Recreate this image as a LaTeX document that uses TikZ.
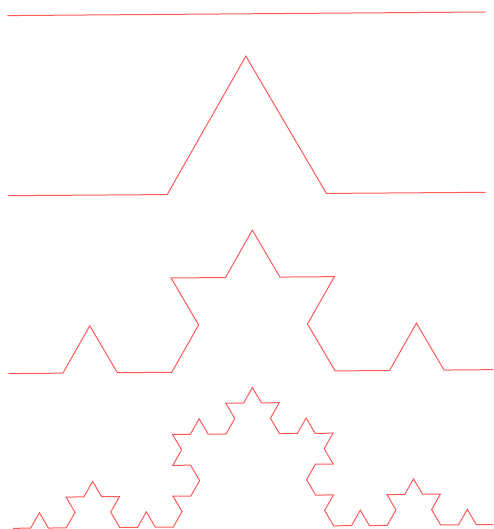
\documentclass[tikz,border=0pt]{standalone}
\usetikzlibrary{decorations.fractals}
\definecolor{kochred}{RGB}{255,90,90}
\begin{document}
\begin{tikzpicture}[x=1pt,y=-1pt,
  koch/.style={draw=kochred, line width=1pt, line join=miter, decoration=Koch snowflake},
]
  \useasboundingbox (0,0) rectangle (493,529);
  \clip (0,0) rectangle (493,529);
  % end points of each curve
  \coordinate (a0) at (7.5,15.6);
  \coordinate (b0) at (485.3,12);
  \coordinate (a1) at (8,195.7);
  \coordinate (b1) at (485.7,192.3);
  \coordinate (a2) at (8.5,373.6);
  \coordinate (b2) at (498.5,369.6);
  \coordinate (a3) at (12.8,528.3);
  \coordinate (b3) at (494.2,524.6);
  % step 0
  \draw[koch] (a0) -- (b0);
  % step 1
  \draw[koch] decorate{(a1) -- (b1)};
  % step 2
  \draw[koch] decorate{decorate{(a2) -- (b2)}};
  % step 3
  \draw[koch] decorate{decorate{decorate{(a3) -- (b3)}}};
\end{tikzpicture}
\end{document}
